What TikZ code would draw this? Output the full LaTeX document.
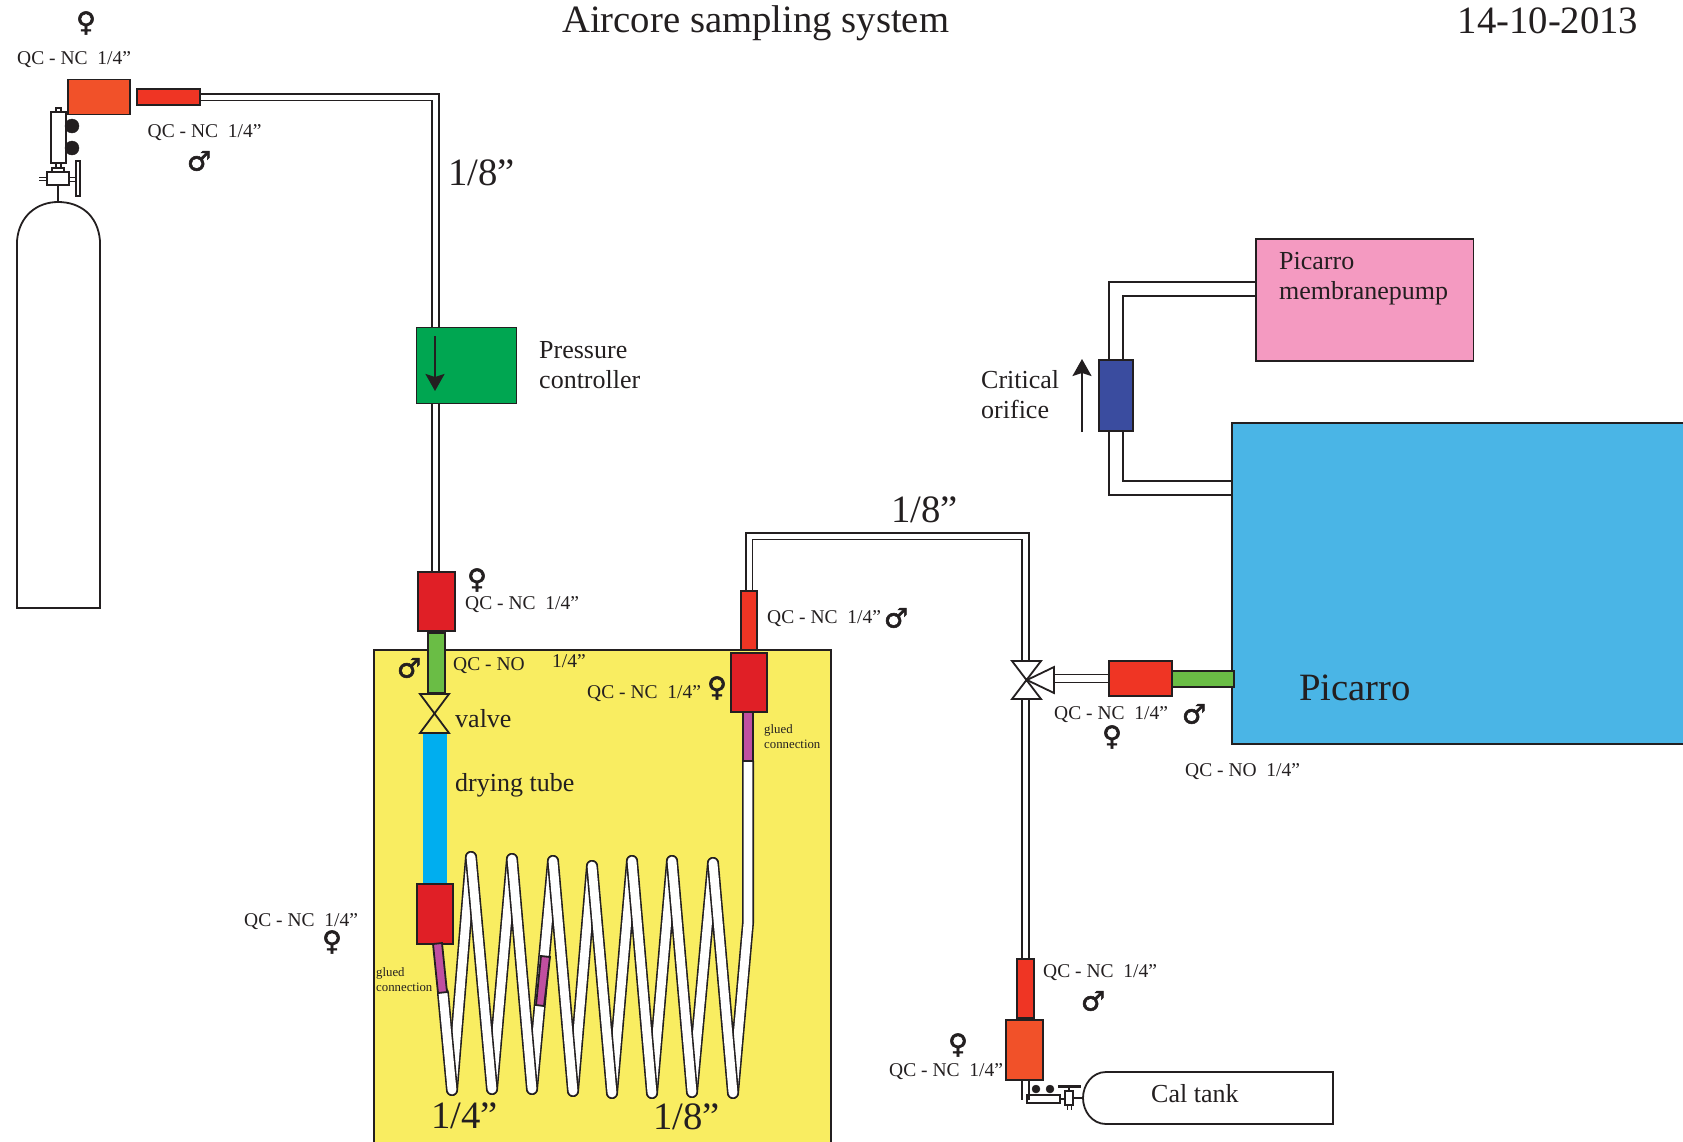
\documentclass[tikz,border=0pt]{standalone}
\usepackage{fontspec}
\setmainfont{Liberation Serif}
\newfontfamily\genderfont[FakeBold=2]{DejaVu Sans}
\usetikzlibrary{backgrounds, arrows.meta}

\definecolor{ink}{HTML}{231F20}
\definecolor{ovenyellow}{HTML}{F9ED61}
\definecolor{qcred}{HTML}{E01F26}
\definecolor{qcorange}{HTML}{F15129}
\definecolor{qcmale}{HTML}{EF3524}
\definecolor{qcgreen}{HTML}{6ABD45}
\definecolor{ctrlgreen}{HTML}{00A651}
\definecolor{dryblue}{HTML}{00AEEF}
\definecolor{picblue}{HTML}{4AB5E6}
\definecolor{pumppink}{HTML}{F49AC1}
\definecolor{orificeblue}{HTML}{3A4C9F}
\definecolor{gluepurple}{HTML}{C04FA0}

\newcommand{\qcnc}{QC - NC~~1/4”}

\tikzset{
    part/.style 2 args={draw=ink, line width=1.8pt, inner sep=0pt, outer sep=0pt, anchor=north west,
        minimum width=#1 pt, minimum height=#2 pt},
    pipe/.style={draw=ink, line width=1.8pt},
    thin pipe/.style={draw=ink, line width=1.4pt},
    tube/.style={draw=ink, line width=1.7pt, double=white, double distance=5pt},
    widetube/.style={draw=ink, line width=1.8pt, double=white, double distance=12.5pt},
    coil/.style={draw=ink, line width=1.6pt, double=white, double distance=8.8pt, line cap=round},
    flow/.style={pipe, line width=2pt, -{Stealth[length=17pt, width=19pt, inset=3pt]}},
    lbl/.style={anchor=base west, inner sep=0pt, text=ink, align=left, font=\fontsize{26}{30}\selectfont},
    qclbl/.style={lbl, font=\fontsize{19.5}{22}\selectfont},
    biglbl/.style={lbl, font=\fontsize{38.7}{42}\selectfont},
    gluelbl/.style={lbl, font=\fontsize{12.8}{15}\selectfont},
    gender/.style={inner sep=0pt, text=ink, font=\genderfont\fontsize{27}{27}\selectfont}
}

\begin{document}
\begin{tikzpicture}[x=1pt, y=-1pt]
    \useasboundingbox (0, 0) rectangle (1683, 1141);

    \node [part={455}{321}, fill=picblue] (picarro) at (1232, 423) {};
    \node [part={217.5}{122}, fill=pumppink] (pump) at (1256, 239) {};
    \node [part={34}{71}, fill=orificeblue] (orifice) at (1099, 360) {};
    \node [part={62}{35}, fill=qcorange] (qcsource) at (68, 79.5) {};
    \node [part={63}{16}, fill=qcmale] (qcline) at (137, 89) {};
    \node [part={100}{76}, fill=ctrlgreen] (pressure) at (416.5, 327.5) {};
    \node [part={37}{59}, fill=qcred] (qcpress) at (418, 572) {};
    \node [part={17}{60}, fill=qcgreen] (qcno) at (428, 633) {};
    \node [part={24}{150}, draw=none, fill=dryblue] (drying) at (423, 734) {};
    \node [part={36}{60}, fill=qcred] (qccoil) at (417, 884) {};
    \node [part={16}{59}, fill=qcmale] (qcout) at (741, 591) {};
    \node [part={36}{59}, fill=qcred] (qcbox) at (731, 653) {};
    \node [part={10}{49}, fill=gluepurple] (glueout) at (743, 712) {};
    \node [part={63}{35}, fill=qcmale] (qctee) at (1109, 661) {};
    \node [part={62}{16}, fill=qcgreen] (qcpic) at (1172, 671) {};
    \node [part={17}{59}, fill=qcmale] (qccal) at (1017, 959) {};
    \node [part={37}{60}, fill=qcorange] (qctank) at (1006, 1020) {};

    \coordinate (pressin) at (435.5, 327);
    \coordinate (pressout) at (435.5, 403);
    \coordinate (pressqc) at (435.5, 572);
    \coordinate (bend) at (749, 536);
    \coordinate (teetop) at (1025.5, 661);
    \coordinate (teebot) at (1025.5, 699);
    \coordinate (teeside) at (1054, 678.5);
    \coordinate (pumpin) at (1256, 289);
    \coordinate (picin) at (1232, 488);
    \coordinate (coilend) at (748, 923);

    \begin{scope}[on background layer]
        \node [part={457}{495}, fill=ovenyellow] (oven) at (374, 650) {};
        \draw [tube] (qcline.east) -| (pressin);
        \draw [tube] (pressout) -- (pressqc);
        \draw [tube] (qcout.north) -- (bend) -| (teetop);
        \draw [tube] (teebot) -- (qccal.north);
        \draw [tube, double distance=6.5pt] (teeside) -- (qctee.west);
        \draw [tube] (qctank.south -| teebot) -- ++(0, 20);
        \draw [widetube] (pumpin) -| (orifice.north);
        \draw [widetube] (orifice.south) |- (picin);
        % coil, rising legs first
        \foreach \xa/\ya/\xb/\yb in {452/1090/471/857, 492/1089/512/859, 532/1089/553/861, 573/1091/592/866,
                612/1093/632/861, 652/1093/672/861, 692/1092/713/863} {
            \draw [coil] (\xa, \ya) -- (\xb, \yb);
        }
        \draw [coil] (733, 1093) -- (coilend) -- (glueout.south);
        \draw [coil] (443, 993) -- (452, 1090);
        \foreach \xa/\ya/\xb/\yb in {471/857/492/1089, 512/859/532/1089, 553/861/573/1091,
                592/866/612/1093, 632/861/652/1093, 672/861/692/1092, 713/863/733/1093} {
            \draw [coil] (\xa, \ya) -- (\xb, \yb);
        }
    \end{scope}

    \filldraw [pipe, fill=gluepurple] (433, 944) -- (442, 943) -- (447, 992) -- (438, 993) -- cycle;
    \filldraw [pipe, fill=gluepurple] (541, 956) -- (550, 957) -- (544, 1006) -- (536, 1005) -- cycle;

    % valves
    \draw [pipe] (420, 694) -- (449, 694) -- (420, 733) -- (449, 733) -- cycle;
    \draw [pipe] (1012, 661) -- (1041, 661) -- (1012, 699) -- (1041, 699) -- cycle;
    \filldraw [pipe, fill=white] (1027, 680) -- (1054, 667) -- (1054, 693) -- cycle;

    % air cylinder
    \draw [pipe] (17, 608) -- (17, 241) .. controls (19, 215) and (38, 202) .. (58, 202)
        .. controls (80, 202) and (98, 215) .. (100, 241) -- (100, 608) -- cycle;
    \draw [thin pipe] (51, 112) rectangle (66, 163);
    \draw [thin pipe] (56, 108) rectangle (61, 112);
    \filldraw [ink] (72, 126) circle (7);
    \filldraw [ink] (72, 148) circle (7);
    \draw [thin pipe] (56, 163) rectangle (61, 168);
    \draw [thin pipe] (52, 168) rectangle (64, 172);
    \draw [thin pipe] (47, 172) rectangle (69, 185);
    \draw [thin pipe, line width=1pt] (39, 177) -- (47, 177) (39, 180) -- (47, 180);
    \draw [thin pipe, line width=1pt] (69, 177) -- (76, 177) (69, 181) -- (76, 181);
    \draw [thin pipe] (76, 161) rectangle (80, 196);
    \draw [thin pipe] (58, 185) -- (58, 202);

    % cal tank
    \draw [pipe] (1333, 1072) -- (1106, 1072) .. controls (1092, 1072) and (1083, 1085) .. (1083, 1098)
        .. controls (1083, 1111) and (1092, 1124) .. (1106, 1124) -- (1333, 1124) -- cycle;
    \draw [thin pipe] (1027, 1095) rectangle (1060, 1103);
    \filldraw [ink] (1036, 1089) circle (4);
    \filldraw [ink] (1050, 1089) circle (4);
    \draw [thin pipe] (1060, 1099) -- (1064, 1099);
    \draw [thin pipe] (1065, 1091) rectangle (1073, 1105);
    \draw [thin pipe] (1069, 1086) -- (1069, 1091);
    \filldraw [ink] (1058, 1085) rectangle (1080, 1087.5);
    \draw [thin pipe, line width=0.8pt] (1067, 1105) -- (1067, 1110) (1071, 1105) -- (1071, 1110);
    \draw [thin pipe] (1073, 1098) -- (1083, 1098);

    % flow arrows
    \draw [flow] (435, 336) -- (435, 391);
    \draw [flow] (1082, 432) -- (1082, 359);

    \node [biglbl] (title) at (562, 32) {Aircore sampling system};
    \node [biglbl] (date) at (1457.5, 33) {14-10-2013};
    \node [biglbl] (tubetop) at (448, 185) {1/8”};
    \node [biglbl] (tubemid) at (891, 522) {1/8”};
    \node [biglbl] (coilwide) at (431, 1128) {1/4”};
    \node [biglbl] (coilnarrow) at (653, 1129) {1/8”};
    \node [biglbl] (piclbl) at (1299, 700) {Picarro};

    \node [lbl] (presslbl) at (539, 388) {Pressure\\controller};
    \node [lbl] (pumplbl) at (1279, 299) {Picarro\\membranepump};
    \node [lbl] (oriflbl) at (981, 418) {Critical\\orifice};
    \node [lbl] (valvelbl) at (455, 727) {valve};
    \node [lbl] (drylbl) at (455, 791) {drying tube};
    \node [lbl] (callbl) at (1151, 1102) {Cal tank};

    \node [qclbl] (qca) at (17, 64) {\qcnc};
    \node [qclbl] (qcb) at (147.5, 137) {\qcnc};
    \node [qclbl] (qcc) at (465, 609) {\qcnc};
    \node [qclbl] (qcd) at (453, 670) {QC - NO};
    \node [qclbl] (qce) at (552, 667) {1/4”};
    \node [qclbl] (qcf) at (767, 623) {\qcnc};
    \node [qclbl] (qcg) at (587, 698) {\qcnc};
    \node [qclbl] (qch) at (1054, 719) {\qcnc};
    \node [qclbl] (qci) at (1185, 776) {QC - NO~~1/4”};
    \node [qclbl] (qcj) at (244, 926) {\qcnc};
    \node [qclbl] (qck) at (1043, 977) {\qcnc};
    \node [qclbl] (qcl) at (889, 1076) {\qcnc};

    \node [gluelbl] (gluea) at (764, 748) {glued\\connection};
    \node [gluelbl] (glueb) at (376, 991) {glued\\connection};

    \node [gender] (fa) at (86, 23) {♀};
    \node [gender] (ma) at (199, 161) {♂};
    \node [gender] (fb) at (477, 580) {♀};
    \node [gender] (mb) at (409, 668) {♂};
    \node [gender] (mc) at (896, 618) {♂};
    \node [gender] (fc) at (717, 688) {♀};
    \node [gender] (fd) at (1112, 737) {♀};
    \node [gender] (md) at (1194, 714) {♂};
    \node [gender] (fe) at (332, 942) {♀};
    \node [gender] (me) at (1093, 1001) {♂};
    \node [gender] (ff) at (958, 1045) {♀};
\end{tikzpicture}
\end{document}
